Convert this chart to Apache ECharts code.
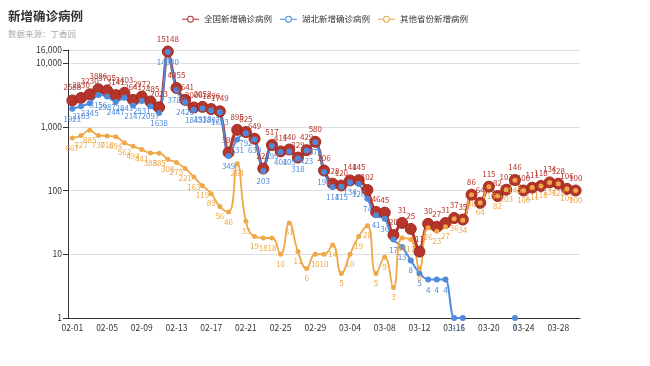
<!DOCTYPE html>
<html>
<head>
<meta charset="utf-8">
<script src="https://cdn.jsdelivr.net/npm/echarts@6/dist/echarts.min.js"></script>
<style>
html,body{margin:0;padding:0;background:#fff;}
#main{width:650px;height:366px;}
</style>
</head>
<body>
<div id="main"></div>
<script>
var dates = ['02-01','02-02','02-03','02-04','02-05','02-06','02-07','02-08','02-09','02-10',
  '02-11','02-12','02-13','02-14','02-15','02-16','02-17','02-18','02-19','02-20',
  '02-21','02-22','02-23','02-24','02-25','02-26','02-27','02-28','02-29',
  '03-01','03-02','03-03','03-04','03-05','03-06','03-07','03-08','03-09','03-10',
  '03-11','03-12','03-13','03-14','03-15','03-16','03-17','03-18','03-19','03-20',
  '03-21','03-22','03-23','03-24','03-25','03-26','03-27','03-28','03-29','03-30'];

var national = [2588,2830,3230,3886,3705,3141,3403,2641,2972,2485,
  2023,15148,4055,2641,2006,2052,1896,1749,395,895,
  825,649,221,517,411,440,329,429,580,
  206,128,120,144,145,102,46,45,20,31,
  25,11,30,27,31,37,35,86,64,115,
  82,103,146,100,111,118,134,128,106,100];

var hubei = [1921,2103,2345,3156,2987,2447,2841,2147,2531,2097,
  1638,14840,3780,2420,1843,1933,1807,1693,349,631,
  792,630,203,499,401,409,318,423,570,
  196,114,115,134,126,74,41,36,17,13,
  8,5,4,4,4,1,1,'-','-','-',
  '-','-',1,'-','-','-','-','-','-','-'];

var others = [667,727,885,730,718,694,562,494,441,388,
  385,308,275,221,163,119,89,56,46,264,
  33,19,18,18,10,31,11,6,10,
  10,14,5,10,19,28,5,9,3,18,
  17,6,26,23,27,36,34,86,64,115,
  82,103,145,100,111,118,134,128,106,100];

var seriesNames = ['全国新增确诊病例','湖北新增确诊病例','其他省份新增病例'];

var FONT = '"Noto Sans CJK SC", "Noto Sans", sans-serif';
var RED = '#b5352b', BLUE = '#4f8bdc', ORANGE = '#efa848';
var iconPath = 'path://M0 4.3H7.6V5.7H0Z M17.4 4.3H25V5.7H17.4Z M7.5 5A5 5 0 1 0 17.5 5A5 5 0 1 0 7.5 5Z M9 5A3.5 3.5 0 1 1 16 5A3.5 3.5 0 1 1 9 5Z';

var chart = echarts.init(document.getElementById('main'));
chart.setOption({
  animation: false,
  textStyle: {fontFamily: FONT},
  title: {
    text: '新增确诊病例',
    subtext: '数据来源：丁香园',
    left: 3, top: 5,
    itemGap: 7,
    textStyle: {fontSize: 12.5, fontWeight: 'bold', color: '#333', fontFamily: FONT},
    subtextStyle: {fontSize: 8.5, color: '#aaa', fontFamily: FONT}
  },
  legend: {
    top: 10,
    left: 'center',
    itemWidth: 17,
    itemHeight: 10,
    itemGap: 8,
    icon: iconPath,
    itemStyle: {borderWidth: 0},
    textStyle: {fontSize: 8.5, color: '#333', fontFamily: FONT},
    data: seriesNames
  },
  grid: {left: 68, right: 70, top: 50, bottom: 48},
  xAxis: {
    type: 'category',
    data: dates,
    boundaryGap: true,
    axisLine: {lineStyle: {color: '#333'}},
    axisTick: {interval: 3, lineStyle: {color: '#333'}},
    axisLabel: {interval: 3, fontSize: 8.5, color: '#333', margin: 6, fontFamily: FONT}
  },
  yAxis: {
    type: 'log',
    logBase: 10,
    min: 1,
    max: 16000,
    axisLine: {show: true, lineStyle: {color: '#333'}},
    axisTick: {show: true, lineStyle: {color: '#333'}},
    axisLabel: {fontSize: 8.5, color: '#333', margin: 6, fontFamily: FONT},
    splitLine: {lineStyle: {color: '#ddd'}}
  },
  series: [
    {
      name: seriesNames[0], type: 'line', data: national, smooth: 0.3,
      showAllSymbol: true,
      symbol: 'circle', symbolSize: 11,
      itemStyle: {color: RED, borderColor: '#9e2a22', borderWidth: 1},
      lineStyle: {width: 3, color: RED},
      label: {show: true, position: 'top', distance: 3, fontSize: 8, color: RED, fontFamily: FONT}
    },
    {
      name: seriesNames[1], type: 'line', data: hubei, smooth: 0.3,
      showAllSymbol: true,
      symbol: 'circle', symbolSize: 6,
      itemStyle: {color: BLUE},
      lineStyle: {width: 2, color: BLUE},
      label: {show: true, position: 'bottom', distance: 3, fontSize: 8, color: BLUE, fontFamily: FONT}
    },
    {
      name: seriesNames[2], type: 'line', data: others, smooth: true,
      showAllSymbol: true,
      symbol: 'circle', symbolSize: 5,
      itemStyle: {color: ORANGE},
      lineStyle: {width: 1.8, color: ORANGE},
      label: {show: true, position: 'bottom', distance: 3, fontSize: 8, color: ORANGE, fontFamily: FONT}
    }
  ]
});
</script>
</body>
</html>
